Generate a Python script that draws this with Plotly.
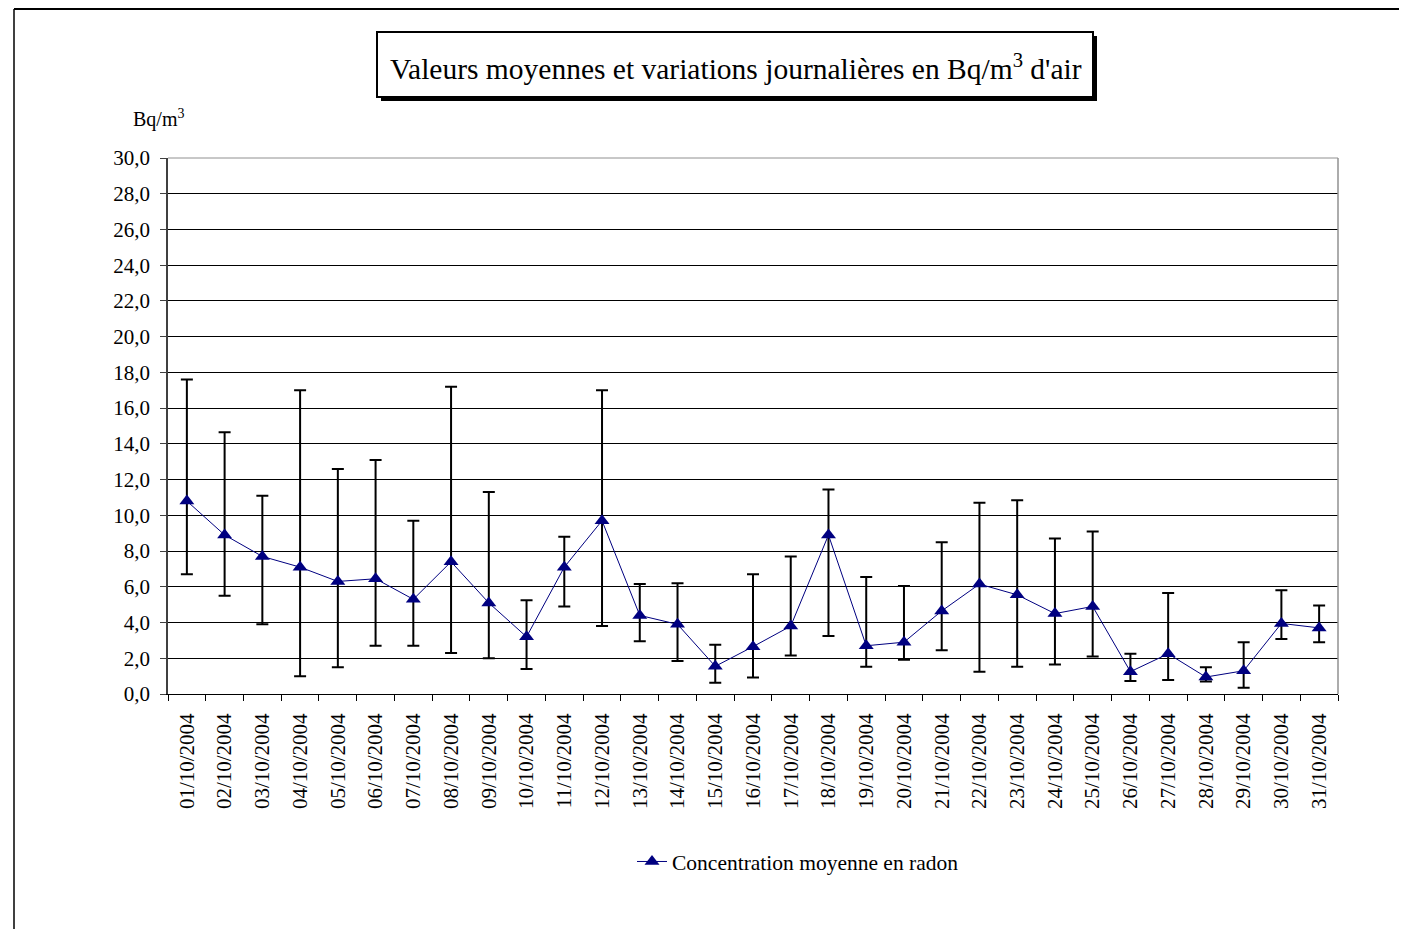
import plotly.graph_objects as go

days = [f"{d:02d}/10/2004" for d in range(1, 32)]
mean_vals = [10.8, 8.9, 7.7, 7.1, 6.3, 6.45, 5.3, 7.4, 5.1, 3.2, 7.1, 9.7, 4.4, 3.9, 1.55,
             2.65, 3.8, 8.9, 2.7, 2.9, 4.65, 6.15, 5.55, 4.5, 4.9, 1.25, 2.25, 0.95, 1.3, 3.95, 3.7]
max_vals = [17.6, 14.65, 11.1, 17.0, 12.6, 13.1, 9.7, 17.2, 11.3, 5.25, 8.8, 17.0, 6.15, 6.2, 2.75,
            6.7, 7.7, 11.45, 6.55, 6.05, 8.5, 10.7, 10.85, 8.7, 9.1, 2.25, 5.65, 1.5, 2.9, 5.8, 4.95]
min_vals = [6.7, 5.5, 3.9, 1.0, 1.5, 2.7, 2.7, 2.3, 2.0, 1.4, 4.9, 3.8, 2.95, 1.85, 0.63,
            0.93, 2.15, 3.25, 1.53, 1.92, 2.45, 1.25, 1.53, 1.65, 2.1, 0.73, 0.78, 0.7, 0.35, 3.08, 2.9]
y_ticks = [0, 2, 4, 6, 8, 10, 12, 14, 16, 18, 20, 22, 24, 26, 28, 30]

err_plus = [mx - m for mx, m in zip(max_vals, mean_vals)]
err_minus = [m - mn for mn, m in zip(min_vals, mean_vals)]

FONT = "Liberation Serif, Times New Roman, serif"
OFF = 8  # page body margin
W, H = 1407 - OFF, 929 - OFF
L, R, T, B = 168, 1338, 158, 694  # plot area in page pixels


def px(x):
    return (x - L) / (R - L)


def py(y):
    return (B - y) / (B - T)


fig = go.Figure()
fig.add_trace(go.Scatter(
    x=days, y=mean_vals, mode="lines+markers",
    name="Concentration moyenne en radon",
    line=dict(color="#000080", width=1),
    marker=dict(symbol="triangle-up", size=13, color="#000080"),
    error_y=dict(type="data", symmetric=False, array=err_plus, arrayminus=err_minus,
                 color="black", thickness=2, width=6),
))

shapes = [
    # outer chart frame (left and top)
    dict(type="line", xref="paper", yref="paper", x0=px(14), x1=px(14), y0=py(960), y1=py(9),
         line=dict(color="black", width=1.5)),
    dict(type="line", xref="paper", yref="paper", x0=px(14), x1=px(1420), y0=py(9), y1=py(9),
         line=dict(color="black", width=2)),
    # title shadow + box
    dict(type="rect", xref="paper", yref="paper", x0=px(381), x1=px(1097), y0=py(101), y1=py(36),
         line=dict(width=0), fillcolor="black"),
    dict(type="rect", xref="paper", yref="paper", x0=px(377), x1=px(1093), y0=py(97), y1=py(32),
         line=dict(color="black", width=2), fillcolor="white"),
    # plot area border top/right in gray
    dict(type="line", xref="paper", yref="paper", x0=0, x1=1, y0=1, y1=1,
         line=dict(color="#909090", width=1)),
    dict(type="line", xref="paper", yref="paper", x0=1, x1=1, y0=0, y1=1,
         line=dict(color="#909090", width=1.5)),
]

annotations = [
    dict(text="Valeurs moyennes et variations journalières en Bq/m<sup>3</sup> d'air",
         xref="paper", yref="paper", x=px(736), y=py(67), showarrow=False,
         font=dict(family=FONT, size=29.5, color="black"), xanchor="center", yanchor="middle"),
    dict(text="Bq/m<sup>3</sup>", xref="paper", yref="paper", x=px(131), y=py(118),
         showarrow=False, font=dict(family=FONT, size=20, color="black"),
         xanchor="left", yanchor="middle"),
]

fig.update_layout(
    width=W, height=H,
    margin=dict(l=L - OFF, r=W - (R - L) - (L - OFF), t=T - OFF, b=H - (B - T) - (T - OFF),
                autoexpand=False),
    paper_bgcolor="white", plot_bgcolor="white",
    separators=", ",
    font=dict(family=FONT, size=21, color="black"),
    showlegend=True,
    legend=dict(orientation="h", x=px(632), xanchor="left", y=py(841), yanchor="top",
                font=dict(family=FONT, size=21.5, color="black"), bgcolor="rgba(0,0,0,0)"),
    shapes=shapes,
    annotations=annotations,
)
fig.update_xaxes(
    type="category", range=[-0.5, 30.5], tickangle=-90,
    ticks="outside", tickson="boundaries", ticklen=6, tickcolor="black",
    showline=True, linecolor="black", linewidth=1, showgrid=False,
    ticklabelstandoff=10,
    tickfont=dict(family=FONT, size=21, color="black"),
)
fig.update_yaxes(
    range=[0, 30], tickvals=y_ticks, tickformat=".1f",
    ticks="outside", ticklen=6, tickcolor="#404040",
    showline=True, linecolor="#404040", linewidth=1.5,
    showgrid=True, gridcolor="black", gridwidth=1, zeroline=False,
    ticklabelstandoff=6,
    tickfont=dict(family=FONT, size=21, color="black"),
)

fig.write_html("out.html")
